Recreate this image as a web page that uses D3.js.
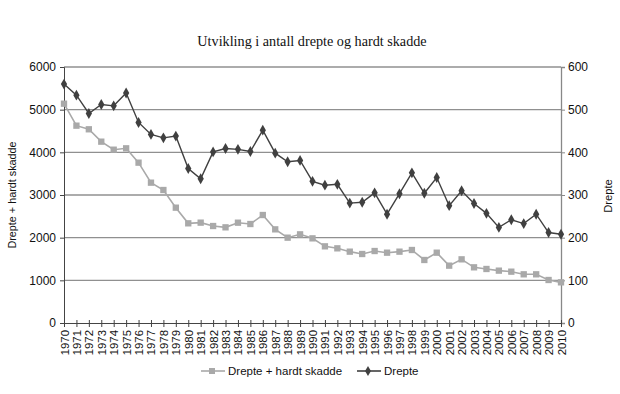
<!DOCTYPE html>
<html>
<head>
<meta charset="utf-8">
<script src="https://cdn.jsdelivr.net/npm/d3@7"></script>
<style>
  body { margin: 0; background: #fff; }
  text { font-family: "Liberation Sans", Arial, sans-serif; fill: #111; }
</style>
</head>
<body>
<div id="root"></div>
<script>
const years = d3.range(1970, 2011)

// Drepte + hardt skadde (left axis)
const severe = [5140, 4625, 4540, 4250, 4062, 4094, 3758, 3289, 3117, 2703,
  2336, 2352, 2273, 2242, 2351, 2320, 2531, 2195, 2000, 2078,
  1984, 1797, 1750, 1672, 1617, 1687, 1648, 1672, 1711, 1477,
  1648, 1344, 1492, 1305, 1266, 1227, 1203, 1141, 1141, 1008, 953]

// Drepte (right axis)
const killed = [560, 534, 491, 512, 509, 539, 470, 442, 434, 438,
  362, 338, 401, 409, 407, 402, 452, 398, 378, 381,
  332, 323, 325, 281, 283, 305, 255, 303, 352, 304,
  341, 275, 310, 280, 257, 224, 242, 233, 255, 212, 208]

const leftTicks = [0, 1000, 2000, 3000, 4000, 5000, 6000]
const rightTicks = [0, 100, 200, 300, 400, 500, 600]

const w = 620
const h = 394
const plot = { left: 64, right: 561, top: 67, bottom: 323 }

const svg = d3.select('#root')
  .append('svg')
  .attr('width', w)
  .attr('height', h)

const xScale = d3.scalePoint()
  .domain(years)
  .range([plot.left, plot.right])

const yLeft = d3.scaleLinear()
  .domain([0, 6000])
  .range([plot.bottom, plot.top])

const yRight = d3.scaleLinear()
  .domain([0, 600])
  .range([plot.bottom, plot.top])

// title
svg.append('text')
  .attr('x', 312)
  .attr('y', 46)
  .attr('text-anchor', 'middle')
  .style('font-family', '"Liberation Serif", "Times New Roman", serif')
  .style('font-size', '14.2px')
  .text('Utvikling i antall drepte og hardt skadde')

// gridlines
svg.append('g')
  .selectAll('line')
  .data(leftTicks.filter(d => d > 0))
  .enter()
  .append('line')
    .attr('x1', plot.left)
    .attr('x2', plot.right)
    .attr('y1', d => yLeft(d))
    .attr('y2', d => yLeft(d))
    .attr('stroke', '#909090')
    .attr('stroke-width', 1.3)

// axes
const leftAxis = d3.axisLeft(yLeft)
  .tickValues(leftTicks)
  .tickSize(4)
  .tickPadding(4)
  .tickFormat(d3.format('d'))

const rightAxis = d3.axisRight(yRight)
  .tickValues(rightTicks)
  .tickSize(4)
  .tickPadding(3)
  .tickFormat(d3.format('d'))

const gl = svg.append('g')
  .attr('transform', 'translate(' + plot.left + ',0)')
  .call(leftAxis)
gl.select('.domain').attr('stroke', '#444')
gl.selectAll('.tick line').attr('stroke', '#444')
gl.selectAll('text').style('font-size', '12px').attr('fill', '#111')

const gr = svg.append('g')
  .attr('transform', 'translate(' + plot.right + ',0)')
  .call(rightAxis)
gr.select('.domain').attr('stroke', '#888').attr('stroke-width', 1.3)
gr.selectAll('.tick line').attr('stroke', '#888')
gr.selectAll('text').style('font-size', '12px').attr('fill', '#111')

// x axis
const xAxis = d3.axisBottom(xScale)
  .tickSizeInner(4)
  .tickSizeOuter(0)
  .tickPadding(0)

const gx = svg.append('g')
  .attr('transform', 'translate(0,' + plot.bottom + ')')
  .call(xAxis)
gx.select('.domain').attr('stroke', '#444')
gx.selectAll('.tick line').attr('stroke', '#444').attr('y1', -3)
gx.selectAll('text')
  .style('font-size', '11.4px')
  .attr('fill', '#111')
  .attr('text-anchor', 'end')
  .attr('dy', '0.35em')
  .attr('y', 0)
  .attr('transform', 'translate(0,7) rotate(-90)')

// axis titles
svg.append('text')
  .attr('transform', 'translate(16,195) rotate(-90)')
  .attr('text-anchor', 'middle')
  .style('font-size', '10.8px')
  .text('Drepte + hardt skadde')

svg.append('text')
  .attr('transform', 'translate(612,196) rotate(-90)')
  .attr('text-anchor', 'middle')
  .style('font-size', '11.2px')
  .text('Drepte')

// series
const severeColor = '#a9a9a9'
const killedColor = '#404040'

const lineLeft = d3.line()
  .x((d, i) => xScale(years[i]))
  .y(d => yLeft(d))

const lineRight = d3.line()
  .x((d, i) => xScale(years[i]))
  .y(d => yRight(d))

svg.append('path')
  .datum(severe)
  .attr('d', lineLeft)
  .attr('fill', 'none')
  .attr('stroke', severeColor)
  .attr('stroke-width', 1.6)

svg.append('g')
  .selectAll('path')
  .data(severe)
  .enter()
  .append('path')
    .attr('d', d3.symbol().type(d3.symbolSquare).size(40))
    .attr('transform', (d, i) => 'translate(' + xScale(years[i]) + ',' + yLeft(d) + ')')
    .attr('fill', severeColor)

svg.append('path')
  .datum(killed)
  .attr('d', lineRight)
  .attr('fill', 'none')
  .attr('stroke', killedColor)
  .attr('stroke-width', 1.4)

svg.append('g')
  .selectAll('path')
  .data(killed)
  .enter()
  .append('path')
    .attr('d', d3.symbol().type(d3.symbolDiamond).size(34))
    .attr('transform', (d, i) => 'translate(' + xScale(years[i]) + ',' + yRight(d) + ')')
    .attr('fill', killedColor)

// legend
const legend = svg.append('g')
const legendItems = [
  { label: 'Drepte + hardt skadde', color: severeColor, type: d3.symbolSquare, size: 36, x: 201 },
  { label: 'Drepte', color: killedColor, type: d3.symbolDiamond, size: 30, x: 357 }
]
legendItems.forEach(item => {
  const g = legend.append('g').attr('transform', 'translate(' + item.x + ',371)')
  g.append('line')
    .attr('x1', 0).attr('x2', 24)
    .attr('stroke', item.color)
    .attr('stroke-width', 1.6)
  g.append('path')
    .attr('d', d3.symbol().type(item.type).size(item.size))
    .attr('transform', 'translate(11,0)')
    .attr('fill', item.color)
  g.append('text')
    .attr('x', 27)
    .attr('dy', '0.35em')
    .style('font-size', '11.5px')
    .text(item.label)
})
</script>
</body>
</html>
